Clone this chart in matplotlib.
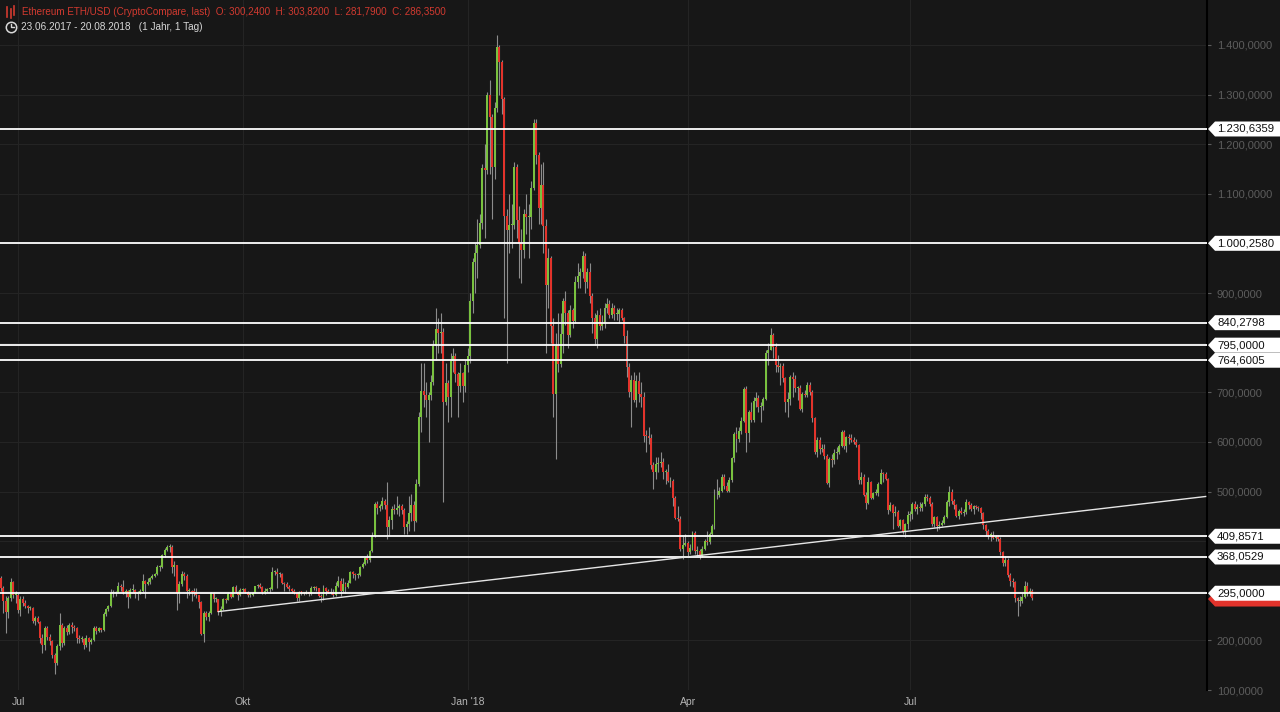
import matplotlib

matplotlib.use("Agg")
import matplotlib.pyplot as plt
import matplotlib.dates as mdates
import matplotlib.transforms as mtransforms
from matplotlib.patches import Polygon
from matplotlib.lines import Line2D
import numpy as np
import pandas as pd

# ---- data: daily ETH/USD, 23.06.2017 - 20.08.2018 ----
START = "2017-06-23"
FIRST_OPEN = 330.0
closes = [
    326, 305, 280, 258, 285, 318, 292, 292,  # Jun 17
    262, 283, 276, 270, 266, 266, 240, 246, 237, 205, 190, 224, 206, 198, 170, 155,
    189, 230, 194, 225, 217, 232, 227, 225, 204, 202, 202, 191, 205, 197, 201,  # Jul
    225, 218, 224, 220, 253, 263, 270, 296, 296, 298, 309, 308, 297, 299, 287, 301,
    302, 293, 296, 299, 320, 313, 317, 325, 330, 333, 347, 347, 372, 383, 388,  # Aug
    388, 348, 352, 296, 313, 334, 330, 299, 300, 298, 297, 291, 277, 213, 255,
    247, 256, 295, 283, 283, 258, 263, 283, 282, 294, 288, 308, 298, 291, 302,  # Sep
    303, 298, 292, 292, 296, 309, 311, 308, 297, 299, 303, 303, 338, 338, 334, 334,
    316, 314, 308, 303, 300, 296, 286, 298, 297, 296, 297, 294, 305, 307, 305,  # Oct
    290, 287, 305, 300, 296, 298, 292, 309, 320, 299, 314, 307, 316, 337, 333,
    331, 332, 347, 354, 366, 361, 381, 410, 474, 466, 471, 480, 472, 428, 442,  # Nov
    464, 463, 466, 470, 463, 428, 434, 456, 473, 441, 515, 651, 702, 695, 684, 694,
    720, 794, 827, 819, 822, 680, 718, 691, 763, 774, 737, 712, 738, 713, 756,  # Dec
    773, 884, 962, 980, 997, 1041, 1153, 1148, 1299, 1255, 1154, 1273, 1396, 1366, 1291, 1055,
    1027, 1037, 1038, 1155, 1048, 1001, 986, 1059, 1053, 1054, 1111, 1243, 1178, 1071, 1118,  # Jan 18
    1036, 917, 970, 833, 697, 793, 758, 817, 883, 860, 815, 866, 843, 922,
    935, 943, 974, 923, 943, 895, 850, 807, 855, 834, 840, 869, 878, 856,  # Feb
    870, 857, 857, 866, 849, 813, 750, 700, 725, 684, 722, 697, 690, 612, 611, 607,
    554, 539, 556, 558, 560, 539, 540, 522, 522, 486, 447, 444, 384, 393, 397,  # Mar
    379, 386, 417, 380, 381, 370, 385, 400, 398, 414, 431, 493, 492, 502, 530,
    511, 502, 524, 567, 616, 605, 621, 643, 707, 617, 661, 644, 683, 689, 670,  # Apr
    673, 687, 780, 786, 815, 791, 754, 751, 752, 728, 680, 686, 730, 727, 708, 708,
    667, 696, 694, 715, 700, 648, 580, 603, 585, 586, 571, 517, 566, 563, 577,  # May
    580, 591, 619, 592, 609, 607, 603, 599, 593, 524, 530, 492, 476, 520, 487,
    497, 498, 516, 537, 535, 526, 463, 472, 457, 458, 430, 442, 419, 434, 453,  # Jun
    454, 475, 464, 468, 467, 474, 489, 487, 475, 435, 448, 430, 433, 437, 449, 479,
    499, 480, 472, 450, 461, 457, 458, 478, 472, 464, 471, 469, 466, 457, 433,  # Jul
    421, 412, 413, 407, 409, 405, 378, 356, 363, 332,
    319, 318, 286, 279, 280, 288, 310, 295, 300.24, 286.35,  # Aug
]
highs = [
    335, 330, 310, 290, 290, 325, 320, 300,
    295, 290, 290, 282, 272, 270, 268, 250, 250, 240, 212, 228, 228, 212, 200, 175,
    192, 255, 235, 229, 230, 236, 238, 230, 227, 210, 208, 205, 210, 206, 205,
    229, 229, 226, 225, 258, 266, 272, 303, 302, 300, 318, 314, 322, 303, 301, 305,
    314, 304, 300, 303, 333, 322, 326, 327, 334, 335, 351, 352, 374, 387, 392,
    394, 392, 360, 352, 320, 340, 338, 333, 305, 302, 305, 306, 292, 280, 260,
    260, 260, 298, 297, 288, 284, 270, 285, 285, 298, 296, 310, 312, 300, 305,
    306, 305, 300, 296, 298, 310, 314, 315, 310, 305, 305, 307, 348, 342, 345, 338,
    336, 318, 317, 311, 305, 304, 298, 300, 300, 298, 301, 298, 310, 310, 309,
    306, 293, 312, 307, 304, 305, 303, 318, 330, 325, 325, 318, 322, 340, 340,
    336, 335, 350, 357, 369, 375, 383, 418, 478, 480, 475, 488, 485, 520, 450,
    470, 475, 490, 475, 475, 466, 440, 490, 495, 480, 525, 660, 760, 760, 720, 700,
    735, 805, 870, 850, 860, 830, 760, 725, 780, 790, 780, 740, 760, 740, 765,
    790, 900, 970, 1000, 1050, 1060, 1160, 1200, 1305, 1330, 1260, 1285, 1420, 1400, 1370, 1295,
    1070, 1100, 1080, 1165, 1160, 1075, 1030, 1070, 1100, 1080, 1125, 1250, 1250, 1185, 1160,
    1165, 1050, 990, 975, 850, 820, 860, 860, 890, 905, 865, 875, 870, 935,
    960, 950, 985, 980, 950, 960, 900, 860, 865, 870, 855, 880, 890, 885,
    880, 875, 870, 870, 870, 852, 825, 760, 735, 740, 735, 740, 720, 700, 625, 630,
    615, 560, 570, 570, 580, 568, 545, 555, 530, 525, 490, 470, 450, 410, 415,
    400, 395, 420, 420, 390, 385, 390, 405, 420, 418, 435, 505, 525, 510, 535,
    535, 520, 530, 570, 620, 630, 630, 650, 710, 713, 665, 680, 690, 700, 695,
    680, 690, 785, 800, 830, 820, 800, 775, 760, 760, 730, 700, 735, 740, 735, 712,
    715, 700, 705, 720, 720, 705, 650, 610, 610, 595, 595, 575, 570, 575, 585,
    590, 595, 625, 625, 612, 615, 615, 610, 605, 595, 540, 535, 500, 530, 522,
    500, 505, 520, 545, 540, 540, 528, 478, 475, 470, 462, 445, 445, 436, 460,
    460, 478, 480, 475, 478, 478, 495, 495, 490, 478, 450, 450, 440, 442, 452, 482,
    512, 505, 484, 475, 465, 468, 465, 485, 480, 476, 473, 472, 470, 468, 458,
    435, 425, 418, 420, 412, 412, 408, 380, 370, 366,
    335, 325, 320, 288, 290, 295, 320, 318, 305, 303.82,
]
lows = [
    320, 300, 255, 215, 245, 280, 285, 275,
    255, 250, 270, 265, 255, 262, 236, 232, 235, 195, 175, 180, 200, 190, 165, 132,
    150, 180, 186, 190, 210, 212, 215, 219, 195, 195, 196, 183, 186, 178, 192,
    198, 213, 216, 217, 219, 250, 260, 268, 287, 290, 297, 300, 293, 287, 265, 285,
    298, 285, 281, 293, 297, 285, 311, 313, 323, 327, 331, 339, 345, 369, 380,
    378, 335, 330, 262, 275, 310, 322, 285, 292, 280, 290, 285, 265, 210, 197,
    241, 240, 254, 278, 277, 252, 250, 261, 275, 282, 285, 287, 295, 281, 290,
    298, 295, 288, 288, 290, 295, 305, 305, 294, 293, 297, 297, 302, 331, 305, 328,
    313, 299, 305, 300, 295, 293, 280, 280, 292, 292, 293, 290, 292, 302, 300,
    288, 278, 282, 292, 295, 293, 288, 290, 307, 290, 297, 295, 305, 315, 325,
    322, 325, 330, 345, 352, 355, 358, 378, 408, 455, 460, 465, 465, 405, 410,
    425, 455, 455, 450, 455, 415, 415, 420, 440, 420, 438, 512, 620, 670, 650, 600,
    685, 715, 765, 780, 780, 478, 675, 640, 650, 740, 720, 650, 700, 680, 700,
    740, 760, 860, 900, 930, 990, 1030, 1010, 1140, 1140, 1050, 1130, 1265, 1300, 1260, 850,
    760, 980, 990, 1030, 1010, 930, 920, 970, 1020, 970, 1030, 1108, 1160, 1040, 1040,
    980, 780, 870, 800, 650, 565, 740, 750, 780, 835, 790, 812, 830, 840,
    910, 910, 930, 900, 910, 880, 820, 795, 790, 825, 825, 830, 860, 850,
    850, 845, 845, 840, 845, 800, 730, 690, 630, 680, 670, 680, 670, 600, 580, 595,
    545, 505, 525, 540, 550, 525, 515, 520, 510, 470, 445, 440, 380, 365, 390,
    370, 375, 383, 375, 370, 365, 368, 383, 393, 395, 412, 425, 485, 488, 500,
    505, 500, 500, 520, 560, 580, 600, 615, 640, 580, 600, 640, 640, 670, 660,
    640, 665, 685, 755, 785, 770, 740, 740, 715, 720, 660, 650, 675, 690, 700, 685,
    665, 660, 690, 690, 695, 640, 575, 570, 575, 580, 565, 515, 510, 550, 555,
    565, 575, 590, 585, 580, 595, 600, 595, 590, 515, 515, 490, 465, 475, 485,
    485, 492, 490, 515, 520, 523, 455, 460, 425, 450, 428, 425, 415, 408, 425,
    440, 445, 460, 455, 460, 460, 470, 480, 470, 430, 428, 420, 425, 430, 435, 447,
    470, 475, 465, 448, 445, 455, 450, 455, 465, 460, 455, 465, 460, 445, 425,
    410, 405, 400, 405, 400, 400, 372, 350, 350, 328,
    310, 308, 278, 250, 270, 275, 285, 290, 290, 281.79,
]

LEVELS = [1230.6359, 1000.2580, 840.2798, 795.0, 764.6005, 409.8571, 368.0529, 295.0]
TREND_DATES = ["2017-09-21", "2018-10-30"]
TREND_PRICES = [258.0, 490.0]
LAST_CLOSE = 286.35
GRID_PRICES = [100, 200, 300, 400, 500, 600, 700, 800, 900, 1000, 1100, 1200, 1300, 1400]
# tick labels that stay visible (the others sit under the level tags)
PRICE_TICKS = [100, 200, 500, 600, 700, 900, 1100, 1200, 1300, 1400]
DATE_TICKS = ["2017-07-01", "2017-10-01", "2018-01-01", "2018-04-01", "2018-07-01"]
DATE_LABELS = ["Jul", "Okt", "Jan '18", "Apr", "Jul"]
TITLE = ("Ethereum ETH/USD (CryptoCompare, last)  O: 300,2400  H: 303,8200  "
         "L: 281,7900  C: 286,3500")
SUBTITLE = "23.06.2017 - 20.08.2018   (1 Jahr, 1 Tag)"

BG = "#171717"
GRID = "#242424"
GREEN, RED, WICK = "#79c13f", "#e2332b", "#8c8c8c"
W, H = 1280, 712
plt.rcParams["font.family"] = ["Liberation Sans", "DejaVu Sans"]


def de_fmt(v, pos=None):
    s = f"{v:,.4f}"
    return s.replace(",", "X").replace(".", ",").replace("X", ".")


assert len(closes) == len(highs) == len(lows)
dates = pd.date_range(START, periods=len(closes), freq="D")
x = mdates.date2num(dates)
c = np.array(closes, dtype=float)
o = np.r_[FIRST_OPEN, c[:-1]]
hi = np.array(highs, dtype=float)
lo = np.array(lows, dtype=float)
up = c >= o

fig = plt.figure(figsize=(W / 100, H / 100), dpi=100, facecolor=BG)
ax = fig.add_axes([0, 22 / H, 1207 / W, 690 / H], facecolor=BG)
ax.set_xlim(mdates.date2num(pd.Timestamp("2017-06-23 15:00")),
            mdates.date2num(pd.Timestamp("2018-10-30 13:00")))
y0, y1 = 102.0, 1490.6
ax.set_ylim(y0, y1)
px = (y1 - y0) / 690  # price units per pixel

# grid
for v in GRID_PRICES:
    ax.axhline(v, color=GRID, lw=0.8, zorder=0)
for d in DATE_TICKS:
    ax.axvline(mdates.date2num(pd.Timestamp(d)), color=GRID, lw=0.8, zorder=0)

# candles
ax.vlines(x, lo, hi, color=WICK, lw=0.8, zorder=2)
body = np.maximum(np.abs(c - o), 2.0)
ax.bar(x[up], body[up], bottom=o[up], width=0.8, color=GREEN, lw=0, zorder=3)
ax.bar(x[~up], body[~up], bottom=c[~up], width=0.8, color=RED, lw=0, zorder=3)

# support / resistance lines and trendline
for lv in LEVELS:
    ax.axhline(lv, color="white", lw=1.3, zorder=4)
ax.plot(mdates.date2num(pd.to_datetime(TREND_DATES)), TREND_PRICES, color="#e6e6e6",
        lw=1.0, zorder=4)

# axes styling
for sp in ("top", "left", "bottom"):
    ax.spines[sp].set_visible(False)
ax.spines["right"].set_color("black")
ax.spines["right"].set_linewidth(1.5)
ax.yaxis.tick_right()
ax.set_yticks(PRICE_TICKS)
ax.yaxis.set_major_formatter(plt.FuncFormatter(de_fmt))
ax.tick_params(axis="y", colors="#5c5c5c", labelsize=8, length=3, pad=4, width=0.8)
ax.set_xticks(mdates.date2num(pd.to_datetime(DATE_TICKS)))
ax.set_xticklabels(DATE_LABELS)
ax.tick_params(axis="x", colors="#b4b4b4", labelsize=7.5, length=0, pad=5)

# price labels on the right (tip at the axis edge)
tr = mtransforms.blended_transform_factory(fig.transFigure, ax.transData)
hh = 7.5 * px


def tag(yv, face, text=None, z=6):
    verts = [(1208 / W, yv), (1215 / W, yv - hh), (1.0, yv - hh), (1.0, yv + hh),
             (1215 / W, yv + hh)]
    ax.add_patch(Polygon(verts, closed=True, transform=tr, facecolor=face,
                         edgecolor="none", clip_on=False, zorder=z))
    if text:
        ax.text(1217 / W, yv, text, transform=tr, fontsize=8.2, color="#111111",
                va="center", ha="left", clip_on=False, zorder=z + 1)


tag(LAST_CLOSE - 1.5 * px, RED, z=5)
for lv in LEVELS:
    tag(lv, "white", de_fmt(lv))

# header
fig.text(22 / W, 1 - 12 / H, TITLE, color="#d23a30", fontsize=7.1, va="center", ha="left")
fig.text(21 / W, 1 - 27 / H, SUBTITLE, color="#d8d8d8", fontsize=7.2, va="center", ha="left")
for xi, (ya, yb) in zip((7, 10.5, 14), ((7, 17), (9, 18), (6, 15))):
    fig.add_artist(Line2D([xi / W, xi / W], [1 - ya / H, 1 - yb / H], color="#d23a30",
                          lw=1.2, transform=fig.transFigure))
fig.add_artist(Line2D([11 / W], [1 - 27 / H], marker="o", ms=7.5, mfc="none", mec="#d8d8d8",
                      mew=1.1, transform=fig.transFigure))
fig.add_artist(Line2D([11 / W, 11 / W, 13.5 / W], [1 - 24 / H, 1 - 27 / H, 1 - 27 / H],
                      color="#d8d8d8", lw=1.0, transform=fig.transFigure))

fig.savefig("out.png", dpi=100, facecolor=BG)
